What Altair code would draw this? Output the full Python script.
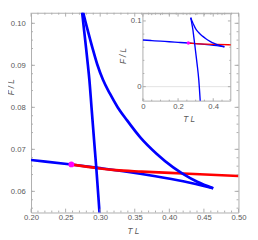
import altair as alt
import pandas as pd

# ---------------- data ----------------
lower_x = [0.00, 0.05, 0.10, 0.15, 0.20, 0.2583, 0.30, 0.336, 0.38, 0.42, 0.4635]
lower_y = [0.0710, 0.0701, 0.0692, 0.0684, 0.06747, 0.0664, 0.06553, 0.06473, 0.0636, 0.0624, 0.06075]

upper_x = [0.2722, 0.2771, 0.2822, 0.2889, 0.2958, 0.3042, 0.3139, 0.3250, 0.3389,
           0.3583, 0.3819, 0.4056, 0.4185, 0.4403, 0.4635]
upper_y = [0.1050, 0.1014, 0.0982, 0.0941, 0.0902, 0.0865, 0.0833, 0.0801, 0.0769,
           0.0728, 0.0689, 0.0657, 0.0643, 0.0623, 0.06075]

steep_x = [0.2722, 0.2747, 0.2768, 0.2796, 0.2821, 0.2844, 0.2875, 0.2911, 0.2944,
           0.2990, 0.3080, 0.3180, 0.3260]
steep_y = [0.1050, 0.1014, 0.0982, 0.0941, 0.0902, 0.0865, 0.0799, 0.0723, 0.0655,
           0.0550, 0.0350, 0.0100, -0.0215]

red_x = [0.2583, 0.28, 0.30, 0.3222, 0.36, 0.42, 0.50]
red_y = [0.0664, 0.0659, 0.06545, 0.06505, 0.0647, 0.06425, 0.06366]

point_x = [0.2583]
point_y = [0.0664]

main_x_domain = [0.20, 0.50]
main_y_domain = [0.05497, 0.10251]
main_x_ticks = [0.20, 0.25, 0.30, 0.35, 0.40, 0.45, 0.50]
main_y_ticks = [0.06, 0.07, 0.08, 0.09, 0.10]
main_x_minor = [round(0.20 + 0.01 * k, 3) for k in range(31) if k % 5]
main_y_minor = [round(0.056 + 0.002 * k, 4) for k in range(24) if (k + 2) % 5]

inset_x_domain = [0.0, 0.5]
inset_y_domain = [-0.022, 0.111]
inset_x_ticks = [0.0, 0.2, 0.4]
inset_y_ticks = [0.0, 0.1]
inset_x_minor = [0.05, 0.1, 0.15, 0.25, 0.3, 0.35, 0.45]
inset_y_minor = [-0.02, 0.02, 0.04, 0.06, 0.08]
inset_zero = [0.0]

# ---------------- style ----------------
W, H = 216, 208
IX0, IX1 = 116.5, 208      # inset plot area (x range, px)
IYB, IYT = 92, 1           # inset plot area (y range, px)
FRAME = '#ababab'
LABEL = '#5a5a5a'
FONT = 'Liberation Sans'
BLUE = '#0000ff'
RED = '#ff0000'
MAG = '#ff00ff'


def df(xs, ys):
    return pd.DataFrame({'x': xs, 'y': ys, 'i': list(range(len(xs)))})


lower = df(lower_x, lower_y)
upper = df(upper_x, upper_y)
steep = df(steep_x, steep_y)
red = df(red_x, red_y)
point = df(point_x, point_y)

# ---------------- main scales / axes ----------------
xs_main = alt.Scale(domain=main_x_domain, nice=False, zero=False)
ys_main = alt.Scale(domain=main_y_domain, nice=False, zero=False)

ax_main_x = alt.Axis(orient='bottom', values=main_x_ticks, format='.2f', ticks=False, tickSize=0,
                     domain=False, grid=False, labelFlush=False, labelOverlap=False,
                     labelFont=FONT, labelFontSize=8, labelColor=LABEL, labelPadding=1,
                     title='T L', titleFont=FONT, titleFontSize=8.5, titleFontStyle='italic',
                     titleFontWeight='normal', titleColor=LABEL, titleX=106, titleY=19,
                     titleAlign='center', titleBaseline='middle')
ax_main_y = alt.Axis(orient='left', values=main_y_ticks, format='.2f', ticks=False, tickSize=0,
                     domain=False, grid=False, labelFlush=False, labelOverlap=False,
                     labelFont=FONT, labelFontSize=8, labelColor=LABEL, labelPadding=6,
                     title='F / L', titleFont=FONT, titleFontSize=8.5, titleFontStyle='italic',
                     titleFontWeight='normal', titleColor=LABEL, titleAngle=270, titleX=-21,
                     titleY=77, titleAlign='center', titleBaseline='middle')


def mx(f='x'):
    return alt.X(f + ':Q', scale=xs_main, axis=ax_main_x)


def my(f='y'):
    return alt.Y(f + ':Q', scale=ys_main, axis=ax_main_y)


def main_line(d, color):
    return alt.Chart(d).mark_line(color=color, strokeWidth=2.8, clip=True, interpolate='monotone').encode(
        x=mx(), y=my(), order='i:Q')


main_layers = [
    main_line(lower, BLUE),
    main_line(red, RED),
    main_line(upper, BLUE),
    main_line(steep, BLUE),
    alt.Chart(point).mark_point(filled=True, color=MAG, size=36, opacity=1, clip=True).encode(x=mx(), y=my()),
]

for vals, ln in [(main_x_ticks, 4), (main_x_minor, 2)]:
    d = pd.DataFrame({'x': vals})
    main_layers.append(alt.Chart(d).mark_rule(color=FRAME, strokeWidth=1).encode(
        x=mx(), y=alt.value(H), y2=alt.value(H - ln)))
    main_layers.append(alt.Chart(d).mark_rule(color=FRAME, strokeWidth=1).encode(
        x=mx(), y=alt.value(0), y2=alt.value(ln)))
for vals, ln in [(main_y_ticks, 4), (main_y_minor, 2)]:
    d = pd.DataFrame({'y': vals})
    main_layers.append(alt.Chart(d).mark_rule(color=FRAME, strokeWidth=1).encode(
        y=my(), x=alt.value(0), x2=alt.value(ln)))
    main_layers.append(alt.Chart(d).mark_rule(color=FRAME, strokeWidth=1).encode(
        y=my(), x=alt.value(W), x2=alt.value(W - ln)))

main = alt.layer(*main_layers)

# ---------------- inset scales / axes ----------------
xs_in = alt.Scale(domain=inset_x_domain, range=[IX0, IX1], nice=False, zero=False)
ys_in = alt.Scale(domain=inset_y_domain, range=[IYB, IYT], nice=False, zero=False)

ax_in_x = alt.Axis(orient='bottom', offset=-(H - IYB), values=inset_x_ticks, format='.1~f',
                   ticks=False, tickSize=0, domain=False, grid=False, labelFlush=False,
                   labelOverlap=False, labelFont=FONT, labelFontSize=8, labelColor=LABEL,
                   labelPadding=2, title='T L', titleFont=FONT, titleFontSize=8.5,
                   titleFontStyle='italic', titleFontWeight='normal', titleColor=LABEL,
                   titleX=164, titleY=18, titleAlign='center', titleBaseline='middle')
ax_in_y = alt.Axis(orient='left', offset=-IX0, values=inset_y_ticks, format='.1~f',
                   ticks=False, tickSize=0, domain=False, grid=False, labelFlush=False,
                   labelOverlap=False, labelFont=FONT, labelFontSize=8, labelColor=LABEL,
                   labelPadding=2, title='F / L', titleFont=FONT, titleFontSize=8.5,
                   titleFontStyle='italic', titleFontWeight='normal', titleColor=LABEL,
                   titleAngle=270, titleX=-21.5, titleY=44.5, titleAlign='center',
                   titleBaseline='middle')


def ix(f='x'):
    return alt.X(f + ':Q', scale=xs_in, axis=ax_in_x)


def iy(f='y'):
    return alt.Y(f + ':Q', scale=ys_in, axis=ax_in_y)


def inset_line(d, color):
    return alt.Chart(d).mark_line(color=color, strokeWidth=1.4, interpolate='monotone').encode(
        x=ix(), y=iy(), order='i:Q')


frame_df = pd.DataFrame({'x': [inset_x_domain[0]], 'x2': [inset_x_domain[1]],
                         'y': [inset_y_domain[0]], 'y2': [inset_y_domain[1]]})
zero_df = pd.DataFrame({'x': [inset_x_domain[0]], 'x2': [inset_x_domain[1]], 'y': inset_zero})

inset_layers = [
    alt.Chart(zero_df).mark_rule(color='#e2e2e2', strokeWidth=1).encode(x=ix(), x2='x2:Q', y=iy()),
    alt.Chart(frame_df).mark_rect(fill='transparent', stroke=FRAME, strokeWidth=1).encode(
        x=ix(), x2='x2:Q', y=iy(), y2='y2:Q'),
    inset_line(lower, BLUE),
    inset_line(red, RED),
    inset_line(upper, BLUE),
    inset_line(steep, BLUE),
    alt.Chart(point).mark_point(filled=True, color=MAG, size=12, opacity=1).encode(x=ix(), y=iy()),
]

for vals, ln in [(inset_x_ticks, 3), (inset_x_minor, 1.5)]:
    d = pd.DataFrame({'x': vals})
    inset_layers.append(alt.Chart(d).mark_rule(color=FRAME, strokeWidth=1).encode(
        x=ix(), y=alt.value(IYB), y2=alt.value(IYB - ln)))
    inset_layers.append(alt.Chart(d).mark_rule(color=FRAME, strokeWidth=1).encode(
        x=ix(), y=alt.value(IYT), y2=alt.value(IYT + ln)))
for vals, ln in [(inset_y_ticks, 3), (inset_y_minor, 1.5)]:
    d = pd.DataFrame({'y': vals})
    inset_layers.append(alt.Chart(d).mark_rule(color=FRAME, strokeWidth=1).encode(
        y=iy(), x=alt.value(IX0), x2=alt.value(IX0 + ln)))
    inset_layers.append(alt.Chart(d).mark_rule(color=FRAME, strokeWidth=1).encode(
        y=iy(), x=alt.value(IX1), x2=alt.value(IX1 - ln)))

inset = alt.layer(*inset_layers)

chart = alt.layer(main, inset).resolve_scale(x='independent', y='independent').properties(
    width=W, height=H,
    autosize=alt.AutoSizeParams(type='none'),
    padding={'left': 24, 'top': 0, 'right': 12, 'bottom': 32},
    background='white',
).configure_view(stroke=FRAME, strokeWidth=1)

chart.save("out.html", embed_options={"renderer": "svg", "actions": False})
